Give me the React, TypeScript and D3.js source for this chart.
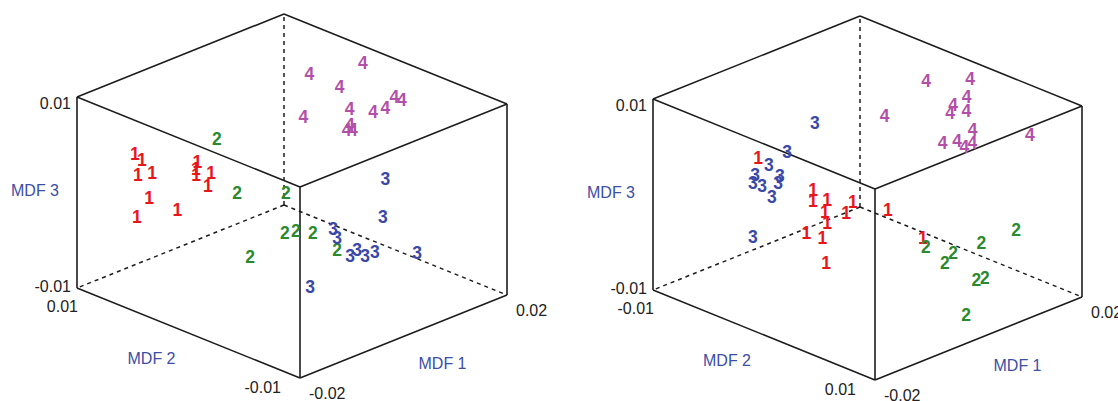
import React, { useEffect, useRef } from 'react';
import * as d3 from 'd3';

// group labels and their colours
const groups = ['1', '2', '3', '4'];
const groupColors = ['#e8151d', '#2a8a2d', '#3a48a8', '#b24fa8'];

// axis ranges / ticks
const mdf1Ticks = [-0.02, 0.02];
const mdf2Ticks = [-0.01, 0.01];
const mdf3Ticks = [-0.01, 0.01];
const axisNames = ['MDF 1', 'MDF 2', 'MDF 3'];

// left plot: [MDF1, MDF2, MDF3]
const leftG1 = [
  [-0.0153, 0.007, 0.0045], [-0.0161, 0.006, 0.0045], [-0.019, 0.005, 0.004],
  [-0.0184, 0.004, 0.0046], [-0.014, 0.002, 0.0057], [-0.0121, 0.003, 0.0041],
  [-0.0099, 0.004, 0.0025], [-0.0113, 0.002, 0.004], [-0.0055, 0.005, -0.0001],
  [-0.0147, 0.006, 0.0002], [-0.0149, 0.007, -0.0022], [-0.0114, 0.005, -0.0013],
];
const leftG2 = [
  [-0.0102, 0.002, 0.0073], [-0.0106, 0.0, 0.0026], [-0.0055, -0.002, 0.0025],
  [-0.0081, 0.0, -0.0046], [-0.01, -0.004, 0.0002], [-0.0057, -0.003, -0.001],
  [-0.0003, -0.002, -0.0028], [0.0001, -0.004, -0.0038],
];
const leftG3 = [
  [0.0094, -0.004, 0.0017], [0.0068, -0.005, -0.0013], [0.0015, -0.003, -0.0023],
  [0.0001, -0.004, -0.0025], [-0.0017, -0.006, -0.0031], [0.0018, -0.005, -0.0037],
  [0.0012, -0.006, -0.0037], [0.0074, -0.004, -0.0056], [0.0134, -0.005, -0.0065],
  [-0.0051, -0.004, -0.0065],
];
const leftG4 = [
  [0.0182, 0.0021, 0.009], [0.0126, 0.0043, 0.008], [0.0148, 0.0026, 0.007],
  [0.0065, 0.002, 0.006], [0.0105, -0.0003, 0.007], [0.012, -0.0017, 0.007],
  [0.012, -0.0028, 0.008], [0.0131, -0.0031, 0.009], [0.0154, -0.0027, 0.008],
  [0.0112, 0.0, 0.005], [0.0126, 0.0004, 0.004], [0.0097, -0.0004, 0.005],
];

// right plot
const rightG1 = [
  [-0.0104, -0.005, 0.0041], [-0.0062, -0.002, 0.0013], [-0.0084, -0.001, 0.0011],
  [-0.0078, 0.0, 0.0015], [-0.0061, -0.001, -0.0006], [-0.0035, -0.002, -0.0028],
  [-0.0071, 0.002, 0.0021], [-0.0063, 0.001, 0.0003], [-0.0054, -0.003, -0.0039],
  [-0.0066, -0.001, -0.0032], [-0.0037, -0.002, -0.0069], [-0.0025, 0.003, 0.0007],
  [0.0021, 0.004, -0.0027],
];
const rightG2 = [
  [0.0027, 0.004, -0.0038], [0.0058, 0.005, -0.0046], [0.0021, 0.006, -0.0044],
  [0.0134, 0.004, -0.0057], [0.018, 0.005, -0.0049], [0.006, 0.007, -0.0066],
  [0.0098, 0.006, -0.0076], [0.0019, 0.008, -0.0089],
];
const rightG3 = [
  [-0.0048, -0.005, 0.0035], [-0.0062, -0.006, 0.002], [-0.0067, -0.007, 0.0006],
  [-0.0062, -0.005, 0.0013], [-0.005, -0.008, -0.0011], [-0.0075, -0.006, 0.0001],
  [-0.0087, -0.004, 0.0016], [-0.0056, -0.006, -0.0015], [-0.005, -0.008, -0.0067],
  [-0.0016, -0.004, 0.0063],
];
const rightG4 = [
  [0.0154, -0.0019, 0.008], [0.0179, 0.0009, 0.009], [0.0076, -0.002, 0.006],
  [0.0157, 0.0016, 0.008], [0.0146, 0.0021, 0.007], [0.0146, 0.0009, 0.007],
  [0.0147, 0.0006, 0.006], [0.0128, 0.0035, 0.006], [0.0113, 0.0015, 0.004],
  [0.0109, 0.003, 0.005], [0.0125, 0.0029, 0.004], [0.0119, 0.0039, 0.005],
  [0.0172, 0.0066, 0.006],
];

const W = 1118;
const H = 401;
const FONT = '"Liberation Sans", Arial, sans-serif';

const plots = [
  { origin: [300, 378], e1: [207, -83], e2: [-223, -90], e3: [0, -191], flip2: false,
    data: [leftG1, leftG2, leftG3, leftG4] },
  { origin: [875, 380], e1: [207, -83], e2: [-222, -90], e3: [0, -191], flip2: true,
    data: [rightG1, rightG2, rightG3, rightG4] },
];

function App() {
  const ref = useRef<SVGSVGElement>(null);

  useEffect(() => {
    const svg = d3.select(ref.current);
    svg.selectAll('*').remove();
    svg.append('rect').attr('width', W).attr('height', H).attr('fill', '#fff');

    const fmt = (d: number) => d.toFixed(2);

    plots.forEach((p) => {
      const su = d3.scaleLinear().domain(d3.extent(mdf1Ticks) as number[]).range([0, 1]);
      const sv = d3.scaleLinear()
        .domain(p.flip2 ? [mdf2Ticks[1], mdf2Ticks[0]] : mdf2Ticks)
        .range([0, 1]);
      const sw = d3.scaleLinear().domain(d3.extent(mdf3Ticks) as number[]).range([0, 1]);

      const proj = (a: number, b: number, c: number) => [
        p.origin[0] + a * p.e1[0] + b * p.e2[0] + c * p.e3[0],
        p.origin[1] + a * p.e1[1] + b * p.e2[1] + c * p.e3[1],
      ];

      const solid = [
        [[0, 0, 1], [1, 0, 1]], [[1, 0, 1], [1, 1, 1]], [[1, 1, 1], [0, 1, 1]], [[0, 1, 1], [0, 0, 1]],
        [[0, 0, 0], [0, 0, 1]], [[1, 0, 0], [1, 0, 1]], [[0, 1, 0], [0, 1, 1]],
        [[0, 0, 0], [1, 0, 0]], [[0, 0, 0], [0, 1, 0]],
      ];
      const dashed = [
        [[1, 1, 0], [1, 1, 1]], [[1, 1, 0], [1, 0, 0]], [[1, 1, 0], [0, 1, 0]],
      ];
      const line = d3.line();
      const g = svg.append('g');

      g.selectAll('path.solid').data(solid).enter().append('path')
        .attr('d', (e: any) => line([proj(e[0][0], e[0][1], e[0][2]), proj(e[1][0], e[1][1], e[1][2])] as any))
        .attr('stroke', '#1c1c1c').attr('stroke-width', 1.6).attr('fill', 'none');
      g.selectAll('path.dash').data(dashed).enter().append('path')
        .attr('d', (e: any) => line([proj(e[0][0], e[0][1], e[0][2]), proj(e[1][0], e[1][1], e[1][2])] as any))
        .attr('stroke', '#1c1c1c').attr('stroke-width', 1.5).attr('stroke-dasharray', '4,4')
        .attr('fill', 'none');

      const tickText = (x: number, y: number, txt: string, anchor: string) =>
        g.append('text').attr('x', x).attr('y', y).attr('dy', '0.36em')
          .attr('text-anchor', anchor).attr('font-family', FONT).attr('font-size', 16)
          .attr('fill', '#222').text(txt);

      // MDF3 ticks on left vertical edge
      mdf3Ticks.forEach((t) => {
        const c = sw(t);
        const [x, y] = proj(0, 1, c);
        tickText(x - 6, y + (c > 0.5 ? 6 : -2), fmt(t), 'end');
      });
      // MDF2 ticks along bottom-left edge
      mdf2Ticks.forEach((t) => {
        const b = sv(t);
        const [x, y] = proj(0, b, 0);
        if (b > 0.5) tickText(x + 1, y + 18, fmt(t), 'end');
        else tickText(x - 19, y + 9, fmt(t), 'end');
      });
      // MDF1 ticks along bottom-right edge
      mdf1Ticks.forEach((t) => {
        const [x, y] = proj(su(t), 0, 0);
        tickText(x + 9, y + 15, fmt(t), 'start');
      });

      const title = (x: number, y: number, txt: string) =>
        g.append('text').attr('x', x).attr('y', y).attr('dy', '0.36em')
          .attr('text-anchor', 'middle').attr('font-family', FONT).attr('font-size', 16)
          .attr('fill', '#3c4ea6').text(txt);
      const m1 = proj(0.5, 0, 0);
      const m2 = proj(0, 0.5, 0);
      const m3 = proj(0, 1, 0.5);
      title(m1[0] + 39, m1[1] + 27, axisNames[0]);
      title(m2[0] - 37, m2[1] + 25, axisNames[1]);
      title(m3[0] - 42, m3[1] - 2, axisNames[2]);

      p.data.forEach((pts, gi) => {
        g.selectAll(`text.g${gi}`).data(pts).enter().append('text')
          .attr('class', `g${gi}`)
          .attr('x', (d: number[]) => proj(su(d[0]), sv(d[1]), sw(d[2]))[0])
          .attr('y', (d: number[]) => proj(su(d[0]), sv(d[1]), sw(d[2]))[1])
          .attr('dy', '0.36em')
          .attr('text-anchor', 'middle')
          .attr('font-family', FONT)
          .attr('font-size', 17.5)
          .attr('font-weight', 'bold')
          .attr('fill', groupColors[gi])
          .text(groups[gi]);
      });
    });
  }, []);

  return (
    <svg ref={ref} width={W} height={H}
      style={{ position: 'absolute', left: 0, top: 0, display: 'block' }} />
  );
}

export default App;
